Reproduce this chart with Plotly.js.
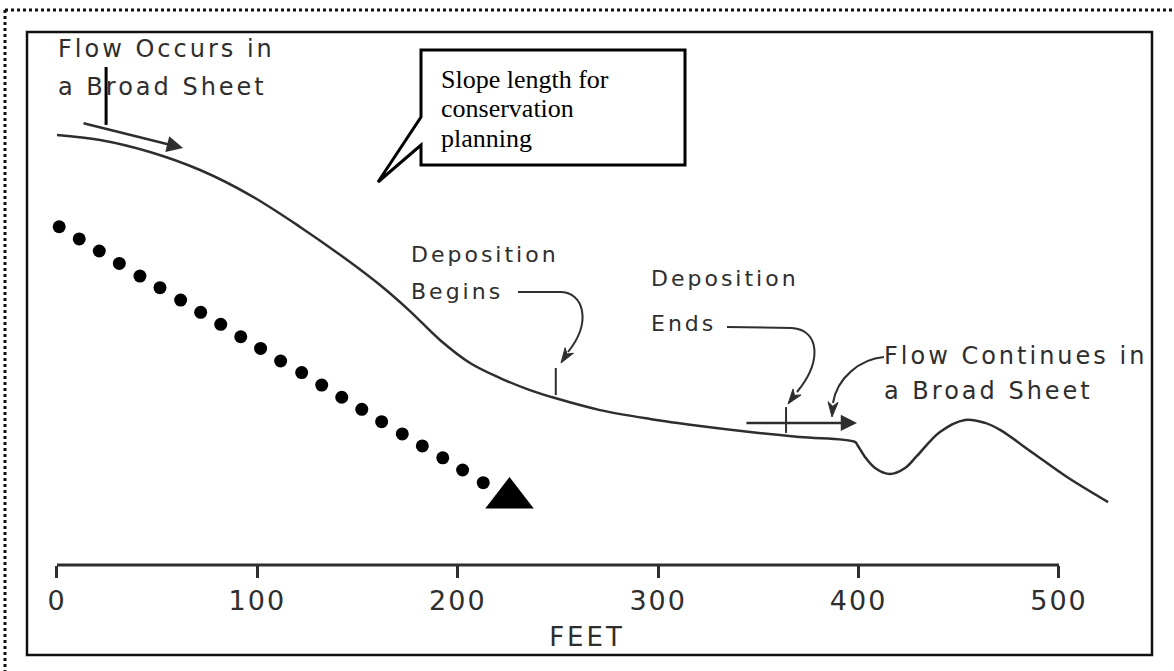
<!DOCTYPE html>
<html><head><meta charset="utf-8">
<script src="https://cdn.plot.ly/plotly-3.0.1.min.js"></script>
<style>
html,body{margin:0;padding:0;background:#fff;}
.annotation-text[style*="DejaVu"]{letter-spacing:3px;}
.xtick text{letter-spacing:2px;}
.xtitle{letter-spacing:3px;}
</style></head>
<body><div id="chart" style="width:1174px;height:671px;"></div>
<script>
// ---- data ----
// hillslope profile: horizontal distance (feet) and relative elevation (same units)
const profileFeet = [0, 21.5, 46.4, 71.4, 96.3, 121.3, 146.2, 161.2, 176.1, 191.1, 206.1, 221.1, 236.0, 248.5, 271.0, 295.9, 320.9, 345.8, 370.8, 398.2, 399.7, 403.2, 408.2, 415.7, 423.2, 429.1, 440.6, 453.1, 463.1, 470.6, 487.0, 504.0, 524.5];
const profileElev = [214.6, 212.1, 206.1, 197.1, 184.6, 168.7, 151.2, 139.7, 126.7, 112.3, 100.8, 93.3, 87.3, 83.3, 77.3, 72.9, 69.4, 66.4, 63.9, 61.4, 59.4, 53.9, 48.4, 45.4, 48.4, 54.4, 66.4, 72.4, 70.9, 67.4, 55.9, 43.9, 31.4];
// dotted downslope arrow (dots, then arrow tip)
const dotFeet = [1.1, 11.1, 21.1, 31.1, 41.4, 51.4, 61.7, 71.7, 81.7, 91.7, 101.6, 111.6, 122.1, 132.1, 142.1, 152.1, 162.0, 172.3, 182.3, 192.5, 202.4, 212.7];
const dotElev = [168.8, 162.7, 156.7, 150.5, 144.2, 138.4, 132.2, 126.1, 120.1, 113.9, 108.1, 101.8, 96.0, 89.8, 83.7, 77.7, 71.5, 65.4, 59.4, 53.5, 47.4, 41.1];
const arrowTipFeet = [225.8];
const arrowTipElev = [33.4];
// axis ticks
const tickFeet = [0, 100, 200, 300, 400, 500];
const tickText = ['0', '100', '200', '300', '400', '500'];
// markers along the profile (feet, elevation from, elevation to)
const slopeStartMark = [24.5, 248.5, 219.6];
const depositionBeginsMark = [248.9, 84.8, 98.3];
const depositionEndsMark = [363.8, 65.9, 78.8];
// flow arrows: [tail feet, tail elev, tip feet, tip elev]
const flowArrowTop = [12.5, 220.6, 62.9, 208.1];
const flowArrowBottom = [343.3, 70.9, 399.2, 70.9];

// ---- layout helpers (page pixel -> paper) ----
const W = 1174, H = 671;
const INK = '#2e2e2e';
const fx = v => (v / W).toFixed(5);
const fy = v => (1 - v / H).toFixed(5);
function pathPx(segs) {
  return segs.map(([c, ...pts]) => c + pts.map(p => fx(p[0]) + ',' + fy(p[1])).join(' ')).join(' ');
}
function headPx(tx, ty, dx, dy, len, wid) {
  const m = Math.hypot(dx, dy); dx /= m; dy /= m;
  const bx = tx - len * dx, by = ty - len * dy;
  const nx = -dy, ny = dx;
  const cx = tx - 0.72 * len * dx, cy = ty - 0.72 * len * dy;
  return pathPx([['M', [tx, ty]], ['L', [bx + wid * nx, by + wid * ny]], ['L', [cx, cy]], ['L', [bx - wid * nx, by - wid * ny]], ['Z']]);
}

const traces = [
  {x: profileFeet, y: profileElev, type: 'scatter', mode: 'lines',
   line: {color: INK, width: 2.5, shape: 'spline', smoothing: 1}, hoverinfo: 'skip', showlegend: false},
  {x: dotFeet.concat(arrowTipFeet), y: dotElev.concat(arrowTipElev), type: 'scatter', mode: 'markers',
   marker: {color: '#000', opacity: 1, size: dotFeet.map(() => 13).concat([42]),
            symbol: dotFeet.map(() => 'circle').concat(['triangle-up']), line: {width: 0}},
   hoverinfo: 'skip', showlegend: false}
];

const shapes = [
  // outer dotted border (top and left visible)
  {type: 'line', xref: 'paper', yref: 'paper', x0: fx(5), x1: 1, y0: fy(10), y1: fy(10), line: {color: '#111', width: 3, dash: 'dot'}},
  {type: 'line', xref: 'paper', yref: 'paper', x0: fx(5), x1: fx(5), y0: fy(10), y1: 0, line: {color: '#111', width: 3, dash: 'dot'}},
  // inner frame
  {type: 'rect', xref: 'paper', yref: 'paper', x0: fx(27), x1: fx(1152), y0: fy(655), y1: fy(32), line: {color: '#111', width: 2.5}},
  // ruler baseline
  {type: 'line', xref: 'x', yref: 'y', x0: tickFeet[0], x1: tickFeet[tickFeet.length - 1], y0: 0, y1: 0, line: {color: INK, width: 3}},
  // slope-start mark and deposition marks
  {type: 'line', xref: 'x', yref: 'y', x0: slopeStartMark[0], x1: slopeStartMark[0], y0: slopeStartMark[1], y1: slopeStartMark[2], line: {color: '#000', width: 3}},
  {type: 'line', xref: 'x', yref: 'y', x0: depositionBeginsMark[0], x1: depositionBeginsMark[0], y0: depositionBeginsMark[1], y1: depositionBeginsMark[2], line: {color: INK, width: 2}},
  {type: 'line', xref: 'x', yref: 'y', x0: depositionEndsMark[0], x1: depositionEndsMark[0], y0: depositionEndsMark[1], y1: depositionEndsMark[2], line: {color: INK, width: 2}},
  // callout bubble
  {type: 'path', xref: 'paper', yref: 'paper', fillcolor: '#fff', line: {color: '#000', width: 3},
   path: pathPx([['M', [421, 50]], ['L', [685, 50]], ['L', [685, 165]], ['L', [421, 165]], ['L', [421, 145]], ['L', [378, 182]], ['L', [421, 117]], ['Z']])},
  // curved leaders
  {type: 'path', xref: 'paper', yref: 'paper', line: {color: INK, width: 2},
   path: pathPx([['M', [518, 292]], ['L', [560, 292]], ['C', [584, 292], [592, 322], [568, 352]]])},
  {type: 'path', xref: 'paper', yref: 'paper', fillcolor: INK, line: {color: INK, width: 1}, path: headPx(561, 363, -0.55, 0.83, 15, 5)},
  {type: 'path', xref: 'paper', yref: 'paper', line: {color: INK, width: 2},
   path: pathPx([['M', [727, 327]], ['L', [792, 328]], ['C', [820, 330], [822, 362], [797, 392]]])},
  {type: 'path', xref: 'paper', yref: 'paper', fillcolor: INK, line: {color: INK, width: 1}, path: headPx(788, 404, -0.6, 0.8, 15, 5)},
  {type: 'path', xref: 'paper', yref: 'paper', line: {color: INK, width: 2},
   path: pathPx([['M', [884, 357]], ['C', [860, 359], [837, 378], [833, 403]]])},
  {type: 'path', xref: 'paper', yref: 'paper', fillcolor: INK, line: {color: INK, width: 1}, path: headPx(832, 417, -0.07, 1, 15, 5)}
];

function lbl(text, x, y, size, family, color) {
  return {text: text, xref: 'paper', yref: 'paper', x: fx(x), y: fy(y), xanchor: 'left', yanchor: 'middle',
          showarrow: false, borderpad: 0, font: {family: family || 'DejaVu Sans', size: size, color: color || INK}};
}
function arrow(a) {
  return {xref: 'x', yref: 'y', axref: 'x', ayref: 'y', x: a[2], y: a[3], ax: a[0], ay: a[1], text: '',
          showarrow: true, arrowhead: 2, arrowsize: 1.3, arrowwidth: 2.5, arrowcolor: INK, standoff: 0, startstandoff: 0};
}
const annotations = [
  lbl('Flow Occurs in', 57, 49, 24),
  lbl('a Broad Sheet', 57, 87, 24),
  lbl('Deposition', 410, 254, 22),
  lbl('Begins', 410, 292, 22),
  lbl('Deposition', 650, 278, 22),
  lbl('Ends', 650, 324, 22),
  lbl('Flow Continues in', 883, 356, 24),
  lbl('a Broad Sheet', 883, 391, 24),
  lbl('Slope length for', 440, 79.5, 26, 'Liberation Serif', '#000'),
  lbl('conservation', 440, 108.5, 26, 'Liberation Serif', '#000'),
  lbl('planning', 440, 138.2, 26, 'Liberation Serif', '#000'),
  arrow(flowArrowTop),
  arrow(flowArrowBottom)
];

const layout = {
  width: W, height: H,
  margin: {l: 0, r: 0, t: 0, b: 0, pad: 0},
  paper_bgcolor: '#fff', plot_bgcolor: '#fff',
  showlegend: false,
  xaxis: {range: [-28.44, 557.39], anchor: 'free', position: 1 - 565 / H,
          showgrid: false, zeroline: false, showline: false,
          ticks: 'outside', ticklen: 12, tickwidth: 3, tickcolor: INK,
          tickmode: 'array', tickvals: tickFeet, ticktext: tickText,
          tickfont: {family: 'DejaVu Sans', size: 27, color: INK},
          title: {text: 'FEET', font: {family: 'DejaVu Sans', size: 26, color: INK}, standoff: 12},
          fixedrange: true},
  yaxis: {range: [-52.89, 281.94], visible: false, showgrid: false, zeroline: false, fixedrange: true},
  shapes: shapes,
  annotations: annotations
};

Plotly.newPlot('chart', traces, layout, {staticPlot: true, displayModeBar: false});
</script>
</body></html>
